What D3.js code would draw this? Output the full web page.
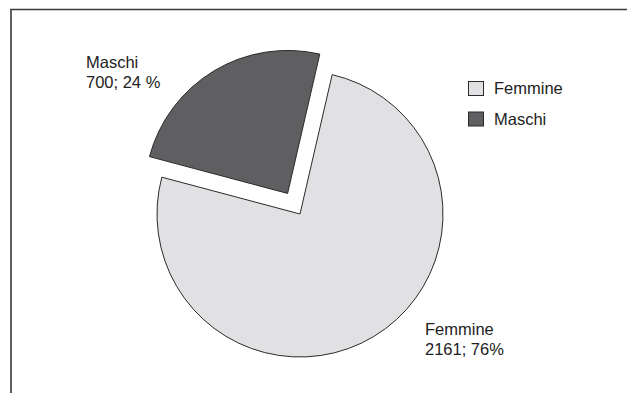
<!DOCTYPE html>
<html>
<head>
<meta charset="utf-8">
<script src="https://cdn.jsdelivr.net/npm/d3@7"></script>
<style>
  html, body { margin: 0; padding: 0; background: #fff; }
  svg { display: block; }
  text { font-family: "Liberation Sans", Arial, Helvetica, sans-serif; fill: #222; }
</style>
</head>
<body>
<svg id="chart" width="627" height="393"></svg>
<script>
const categories = ["Femmine", "Maschi"];
const values = [2161, 700];
const percentLabels = ["76%", "24 %"];
const colors = ["#e1e1e3", "#5f5f61"];

const svg = d3.select("#chart");
const W = 627, H = 393;

// frame (extends beyond the visible area right/bottom)
svg.append("path")
  .attr("d", "M11,400 L11,9.5 L640,9.5")
  .attr("fill", "none")
  .attr("stroke", "#3a3a3a")
  .attr("stroke-width", 1.6);

const cx = 300, cy = 214, r = 143;
const deg = Math.PI / 180;
const data = categories.map((c, i) => ({ cat: c, value: values[i], pct: percentLabels[i], color: colors[i] }));

const pie = d3.pie().value(d => d.value).sort(null)
  .startAngle(13 * deg).endAngle(373 * deg);
const arcs = pie(data);
const arc = d3.arc().innerRadius(0).outerRadius(r);
const explode = { "Maschi": 24, "Femmine": 0 };

const g = svg.append("g").attr("transform", `translate(${cx},${cy})`);
g.selectAll("path.slice").data(arcs).enter().append("path")
  .attr("class", "slice")
  .attr("d", arc)
  .attr("fill", d => d.data.color)
  .attr("stroke", "#2a2a2a")
  .attr("stroke-width", 1)
  .attr("stroke-linejoin", "miter")
  .attr("transform", d => {
    const m = (d.startAngle + d.endAngle) / 2;
    const o = explode[d.data.cat];
    return `translate(${o * Math.sin(m)},${-o * Math.cos(m)})`;
  });

// data labels
const labelPos = { "Femmine": [425, 335], "Maschi": [86, 68] };
arcs.forEach(d => {
  const [lx, ly] = labelPos[d.data.cat];
  const t = svg.append("text").attr("x", lx).attr("y", ly).style("font-size", "16.5px");
  t.append("tspan").attr("x", lx).text(d.data.cat);
  t.append("tspan").attr("x", lx).attr("dy", 19.5).text(d.data.value + "; " + d.data.pct);
});

// legend
const legend = svg.append("g").attr("transform", "translate(468,81)");
const li = legend.selectAll("g").data(data).enter().append("g")
  .attr("transform", (d, i) => `translate(0,${i * 30.5})`);
li.append("rect")
  .attr("x", 0.5).attr("y", 0.5).attr("width", 15).attr("height", 14)
  .attr("fill", d => d.color)
  .attr("stroke", "#2a2a2a").attr("stroke-width", 1);
li.append("text")
  .attr("x", 26).attr("y", 13)
  .style("font-size", "16.5px")
  .text(d => d.cat);
</script>
</body>
</html>
